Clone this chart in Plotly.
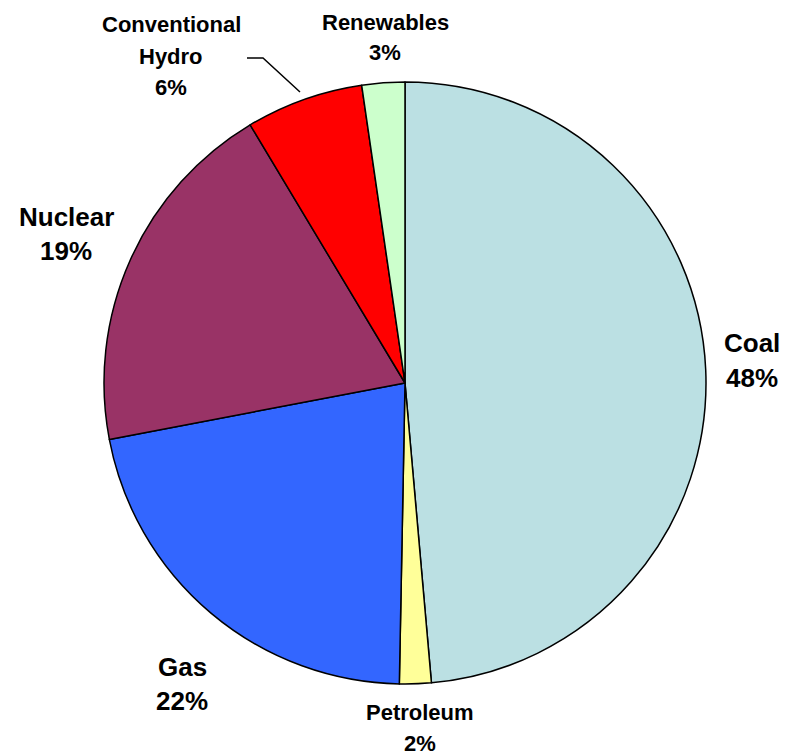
import plotly.graph_objects as go

# data
sources = ["Coal", "Petroleum", "Gas", "Nuclear", "Conventional Hydro", "Renewables"]
shares = [48.6, 1.7, 21.7, 19.4, 6.3, 2.3]
pct_labels = ["48%", "2%", "22%", "19%", "6%", "3%"]
colors = ["#BBE0E3", "#FFFF99", "#3366FF", "#993366", "#FF0000", "#CCFFCC"]

# the page body has an 8px margin, so the figure starts at (8, 8)
OFF = 8
W, H = 794 - OFF, 755 - OFF
# plot square in page pixels: left, top, size
L, T, S = 104, 82, 602


def px(x):
    return (x - L) / S


def py(y):
    return (T + S - y) / S


# label placement (page pixel centre of first line, line spacing, font size)
label_pos = {
    "Coal": (752, 343, 35, 26),
    "Petroleum": (420, 712, 31, 22),
    "Gas": (182, 667, 34, 26),
    "Nuclear": (66, 217, 34, 26),
    "Conventional Hydro": (171, 25, 31, 22),
    "Renewables": (385, 22, 30, 22),
}

fig = go.Figure(go.Pie(
    labels=sources,
    values=shares,
    sort=False,
    direction="clockwise",
    rotation=0,
    textinfo="none",
    hoverinfo="label+percent",
    marker=dict(colors=colors, line=dict(color="black", width=1.5)),
    showlegend=False,
))

annotations = []
for name, pct in zip(sources, pct_labels):
    x, y, step, size = label_pos[name]
    lines = name.split(" ") if name == "Conventional Hydro" else [name]
    lines = lines + [pct]
    for i, line in enumerate(lines):
        annotations.append(dict(
            x=px(x), y=py(y + i * step), xref="paper", yref="paper",
            text="<b>%s</b>" % line, showarrow=False,
            xanchor="center", yanchor="middle",
            font=dict(family="Liberation Sans, Arial", size=size, color="black"),
        ))

# leader line for Conventional Hydro
fig.add_shape(
    type="path", xref="paper", yref="paper",
    path="M %f %f L %f %f L %f %f" % (px(247), py(58), px(263), py(58), px(300), py(92)),
    line=dict(color="black", width=1.5),
)

fig.update_layout(
    width=W, height=H,
    margin=dict(l=L - OFF, r=W - (L - OFF) - S, t=T - OFF, b=H - (T - OFF) - S),
    paper_bgcolor="white",
    plot_bgcolor="white",
    annotations=annotations,
)

fig.write_html("out.html")
